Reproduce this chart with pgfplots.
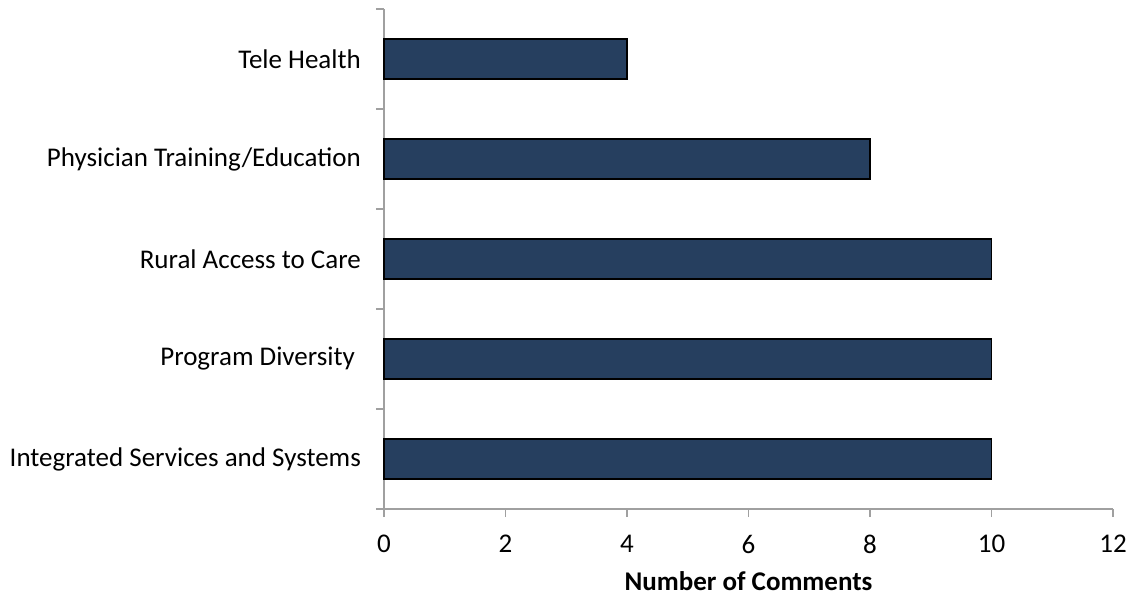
\documentclass[border=0pt]{standalone}
\usepackage{pgfplots}
\pgfplotsset{compat=1.18}
\usepackage{fontspec}
\setmainfont{Carlito}
\definecolor{barblue}{HTML}{263F5F}
\definecolor{axgray}{HTML}{A0A0A0}
\begin{document}
\fontsize{27bp}{32bp}\selectfont
\begin{tikzpicture}
\useasboundingbox (-384bp,-90bp) rectangle (748bp,509bp);
\begin{axis}[
  at={(0,0)}, anchor=south west,
  scale only axis,
  width=729bp, height=500bp,
  xmin=0, xmax=12, ymin=-0.5, ymax=4.5,
  axis x line*=bottom, axis y line*=left,
  axis line style={axgray, line width=1.2bp},
  xtick={0,2,...,12},
  minor xtick={0,2,...,12},
  ytick={0,1,2,3,4},
  yticklabels={Integrated Services and Systems, Program Diversity\hspace*{6bp}, Rural Access to Care, Physician Training/Education, Tele Health},
  minor ytick={-0.5,0.5,...,4.5},
  tick align=outside,
  major tick length=8bp, minor tick length=8bp,
  major tick style={draw=none},
  minor tick style={draw=axgray, line width=1.2bp},
  /pgf/number format/assume math mode=true,
  ticklabel style={font=\fontsize{27bp}{32bp}\selectfont},
  yticklabel style={xshift=-6bp},
  xticklabel style={yshift=-9bp},
  xlabel={\textbf{Number of Comments}},
  xlabel style={font=\fontsize{27bp}{32bp}\selectfont, yshift=0bp},
  xbar, bar width=40bp,
  clip=false,
]
\addplot[fill=barblue, draw=black, line width=1.2bp] coordinates {
  (10,0) (10,1) (10,2) (8,3) (4,4)
};
\end{axis}
\end{tikzpicture}
\end{document}
